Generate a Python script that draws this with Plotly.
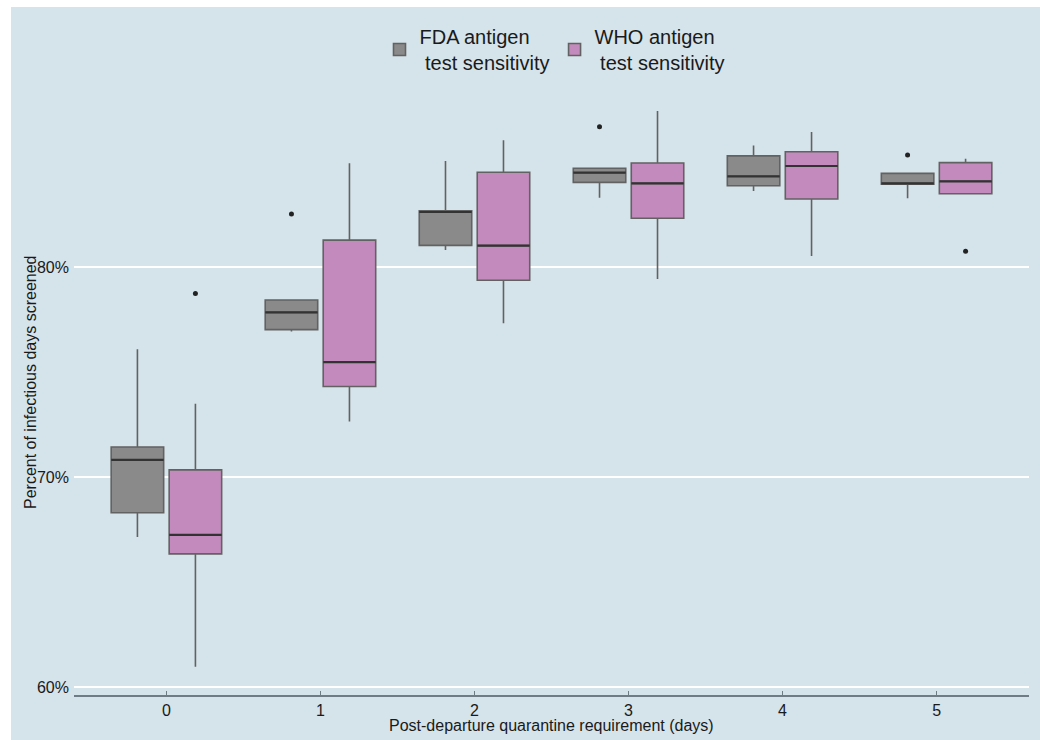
import plotly.graph_objects as go

# Quarantine requirement (days) after departure
days = [0, 1, 2, 3, 4, 5]
tick_text = ["0", "1", "2", "3", "4", "5"]

# FDA antigen test sensitivity: box statistics (% of infectious days screened)
fda_lower = [67.14, 76.93, 80.81, 83.30, 83.62, 83.27]
fda_q1 = [68.30, 77.02, 81.03, 84.03, 83.87, 83.94]
fda_median = [70.82, 77.84, 82.62, 84.49, 84.32, 83.98]
fda_q3 = [71.43, 78.43, 82.68, 84.70, 85.29, 84.46]
fda_upper = [76.08, 78.43, 85.05, 84.70, 85.79, 84.46]
fda_outliers = [[None], [82.52], [None], [86.68], [None], [85.33]]

# WHO antigen test sensitivity
who_lower = [60.97, 72.64, 77.32, 79.43, 80.52, 83.49]
who_q1 = [66.34, 74.31, 79.37, 82.32, 83.24, 83.49]
who_median = [67.24, 75.47, 81.02, 83.98, 84.81, 84.08]
who_q3 = [70.34, 81.28, 84.51, 84.95, 85.49, 84.97]
who_upper = [73.49, 84.94, 86.03, 87.43, 86.43, 85.16]
who_outliers = [[78.74], [None], [None], [None], [None], [80.75]]

y_ticks = [60, 70, 80]
y_tick_text = ["60%", "70%", "80%"]

BG = "#d5e3ea"
FONT = "Liberation Sans, Arial, sans-serif"
W, H = 1040, 740
ML, MR, MT, MB = 74, 11, 10, 45
PW, PH = W - ML - MR, H - MT - MB

fig = go.Figure()

series = [
    ("FDA antigen<br>\u00a0test sensitivity", "fda", "#8a8a8a",
     fda_lower, fda_q1, fda_median, fda_q3, fda_upper, fda_outliers),
    ("WHO antigen<br>\u00a0test sensitivity", "who", "#c38bbd",
     who_lower, who_q1, who_median, who_q3, who_upper, who_outliers),
]

for name, grp, color, lo, q1, med, q3, up, outl in series:
    fig.add_trace(go.Box(
        name=name, x=days, y=outl,
        q1=q1, median=med, q3=q3, lowerfence=lo, upperfence=up,
        offsetgroup=grp, fillcolor=color,
        line=dict(color="#626262", width=1.6),
        whiskerwidth=0, boxpoints="outliers", jitter=0, pointpos=0,
        marker=dict(color="#222222", size=5, line=dict(width=0)),
        hoverinfo="skip",
    ))

# darker median bars drawn on top of each box
for name, grp, color, lo, q1, med, q3, up, outl in series:
    fig.add_trace(go.Box(
        x=days, q1=med, median=med, q3=med, lowerfence=med, upperfence=med,
        offsetgroup=grp, fillcolor="rgba(0,0,0,0)",
        line=dict(color="#333333", width=2.2),
        whiskerwidth=0, boxpoints=False, showlegend=False, hoverinfo="skip",
    ))

# white page border along top and left edges
fig.add_shape(type="rect", xref="paper", yref="paper", layer="above",
              x0=-ML / PW - 0.01, x1=-(ML - 11) / PW, y0=-MB / PH - 0.01, y1=1 + MT / PH + 0.01,
              fillcolor="white", line=dict(width=0))
fig.add_shape(type="rect", xref="paper", yref="paper", layer="above",
              x0=-ML / PW - 0.01, x1=1 + MR / PW + 0.01, y0=1 + (MT - 7) / PH, y1=1 + MT / PH + 0.01,
              fillcolor="white", line=dict(width=0))

fig.add_annotation(text="Percent of infectious days screened", textangle=-90,
                   xref="paper", yref="paper", x=(30 - ML) / PW, y=1 - (383 - MT) / PH,
                   xanchor="center", yanchor="middle", showarrow=False,
                   font=dict(family=FONT, size=16, color="#1a1a1a"))
fig.add_annotation(text="Post-departure quarantine requirement (days)",
                   xref="paper", yref="paper", x=0.5, y=1 - (725 - MT) / PH,
                   xanchor="center", yanchor="middle", showarrow=False,
                   font=dict(family=FONT, size=16, color="#1a1a1a"))

fig.update_layout(
    width=W, height=H,
    margin=dict(l=ML, r=MR, t=MT, b=MB),
    paper_bgcolor=BG, plot_bgcolor=BG,
    boxmode="group", boxgap=0.247, boxgroupgap=0.095,
    font=dict(family=FONT, size=16, color="#1a1a1a"),
    legend=dict(orientation="h", x=(555 - ML) / PW, y=1 - (17 - MT) / PH,
                xanchor="center", yanchor="top", bgcolor="rgba(0,0,0,0)",
                font=dict(family=FONT, size=20, color="#1a1a1a"),
                itemwidth=30, traceorder="normal"),
    xaxis=dict(range=[-0.6, 5.6], tickvals=days, ticktext=tick_text,
               showgrid=False, zeroline=False,
               showline=True, linecolor="#6f7c86", linewidth=1.5,
               ticks="inside", ticklen=4, tickcolor="#6f7c86", tickwidth=1,
               tickfont=dict(family=FONT, size=16, color="#1a1a1a")),
    yaxis=dict(range=[80 - (MT + PH - 267) / 21, 80 + (267 - MT) / 21],
               tickvals=y_ticks, ticktext=y_tick_text,
               showgrid=True, gridcolor="white", gridwidth=2,
               zeroline=False, showline=False, ticks="",
               ticklabelstandoff=4,
               tickfont=dict(family=FONT, size=16, color="#1a1a1a")),
)

fig.write_html("out.html")
